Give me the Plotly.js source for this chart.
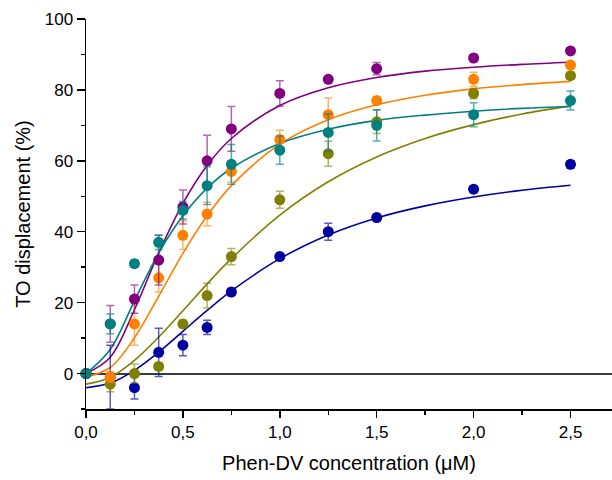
<!DOCTYPE html>
<html>
<head>
<meta charset="utf-8">
<script src="https://cdn.plot.ly/plotly-3.0.1.min.js"></script>
<style>html,body{margin:0;padding:0;background:#fff;}#chart{width:612px;height:480px;}</style>
</head>
<body>
<div id="chart"></div>
<script>
// Measured concentrations (µM)
var conc = [0, 0.125, 0.25, 0.375, 0.5, 0.625, 0.75, 1.0, 1.25, 1.5, 2.0, 2.5];

// Measured TO displacement (%) and error bars
var purpleY   = [0, 14, 21, 32, 47, 60, 69, 79, 83, 86, 89, 91];
var purpleErr = [0, 5.2, 4, 7, 4.8, 7.2, 6.3, 3.6, 0.8, 1.7, 1.0, 0.6];
var orangeY   = [0, -1, 14, 27, 39, 45, 57, 66, 73, 77, 83, 87];
var orangeErr = [0, 1.5, 6, 4, 4, 3.3, 3, 2.6, 4.7, 1, 2, 1];
var tealY     = [0, 14, 31, 37, 46, 53, 59, 63, 68, 70, 73, 77];
var tealErr   = [0, 2.8, 1, 2, 2.5, 5.3, 5.6, 4, 5.2, 4.4, 3.4, 2.7];
var oliveY    = [0, -3, 0, 2, 14, 22, 33, 49, 62, 71, 79, 84];
var oliveErr  = [0, 2.1, 2.7, 1, 1, 3.5, 2.3, 2.4, 3.5, 3.3, 1.5, 1];
var navyY     = [0, -1, -4, 6, 8, 13, 23, 33, 40, 44, 52, 59];
var navyErr   = [0, 9, 3.2, 6.8, 3, 2, 1, 1, 2.4, 1, 1, 1];

// Fitted curves
var fitX      = [0, 0.125, 0.25, 0.375, 0.5, 0.625, 0.75, 1.0, 1.25, 1.5, 1.75, 2.0, 2.25, 2.5];
var purpleFit = [0, 4.6, 18.0, 34.0, 48.0, 58.7, 66.3, 75.6, 80.6, 83.5, 85.3, 86.4, 87.2, 87.8];
var orangeFit = [-1, 1.7, 10.1, 21.8, 33.9, 44.5, 53.0, 64.7, 71.6, 75.8, 78.5, 80.3, 81.5, 82.4];
var tealFit   = [0, 6.8, 20.5, 34.0, 44.5, 52.3, 57.9, 64.9, 68.9, 71.4, 72.9, 74.0, 74.8, 75.3];
var oliveFit  = [-3, -1.1, 3.7, 10.3, 17.7, 25.3, 32.4, 44.7, 54.1, 61.1, 66.3, 70.2, 73.2, 75.5];
var navyFit   = [-4, -2.7, 0.9, 6.0, 11.9, 17.8, 23.3, 32.4, 39.1, 43.9, 47.3, 49.8, 51.7, 53.1];

var xTickVals = [0, 0.5, 1.0, 1.5, 2.0, 2.5];
var yTickVals = [0, 20, 40, 60, 80, 100];

var series = [
  {y: navyY, err: navyErr, fit: navyFit, color: '#0000A0', errColor: 'rgba(0,0,160,0.65)'},
  {y: oliveY, err: oliveErr, fit: oliveFit, color: '#808000', errColor: 'rgba(128,128,0,0.6)'},
  {y: orangeY, err: orangeErr, fit: orangeFit, color: '#FF8000', errColor: 'rgba(255,128,0,0.6)'},
  {y: purpleY, err: purpleErr, fit: purpleFit, color: '#800080', errColor: 'rgba(128,0,128,0.6)'},
  {y: tealY, err: tealErr, fit: tealFit, color: '#008080', errColor: 'rgba(0,128,128,0.65)'}
];

var traces = [];
series.forEach(function(s){
  traces.push({
    x: fitX, y: s.fit, mode: 'lines', type: 'scatter',
    line: {color: s.color, width: 1.6, shape: 'spline', smoothing: 1},
    hoverinfo: 'skip', showlegend: false, cliponaxis: false
  });
});
series.forEach(function(s){
  traces.push({
    x: conc, y: s.y, mode: 'markers', type: 'scatter',
    marker: {color: s.color, size: 11},
    error_y: {type: 'data', array: s.err, visible: true, color: s.errColor, thickness: 1.5, width: 4},
    showlegend: false, cliponaxis: false
  });
});

var fontFam = '"Liberation Sans", Arial, sans-serif';
var layout = {
  width: 612, height: 480,
  margin: {l: 86, r: 0, t: 19, b: 71, pad: 0},
  paper_bgcolor: '#fff', plot_bgcolor: '#fff',
  separators: ', ',
  showlegend: false,
  font: {family: fontFam, size: 17, color: '#000'},
  xaxis: {
    range: [0, 2.714], showgrid: false, zeroline: false,
    showline: true, linecolor: '#000', linewidth: 1.5,
    ticks: 'outside', ticklen: 7, tickwidth: 1.5, tickcolor: '#000',
    tickvals: xTickVals, tickformat: '.1f',
    tickfont: {family: fontFam, size: 17, color: '#000'},
    minor: {dtick: 0.25, tick0: 0, ticks: 'outside', ticklen: 4, tickwidth: 1.5, tickcolor: '#000', showgrid: false},
    title: {text: 'Phen-DV concentration (μM)', font: {family: fontFam, size: 20, color: '#000'}, standoff: 15}
  },
  yaxis: {
    range: [-10, 100], showgrid: false,
    zeroline: true, zerolinecolor: '#3a3a3a', zerolinewidth: 2,
    showline: true, linecolor: '#000', linewidth: 1.5,
    ticks: 'outside', ticklen: 8, tickwidth: 1.5, tickcolor: '#000',
    tickvals: yTickVals,
    tickfont: {family: fontFam, size: 17, color: '#000'},
    minor: {dtick: 10, tick0: 0, ticks: 'outside', ticklen: 4, tickwidth: 1.5, tickcolor: '#000', showgrid: false},
    title: {text: 'TO displacement (%)', font: {family: fontFam, size: 20, color: '#000'}, standoff: 8}
  }
};

Plotly.newPlot('chart', traces, layout, {displayModeBar: false, staticPlot: true});
</script>
</body>
</html>
